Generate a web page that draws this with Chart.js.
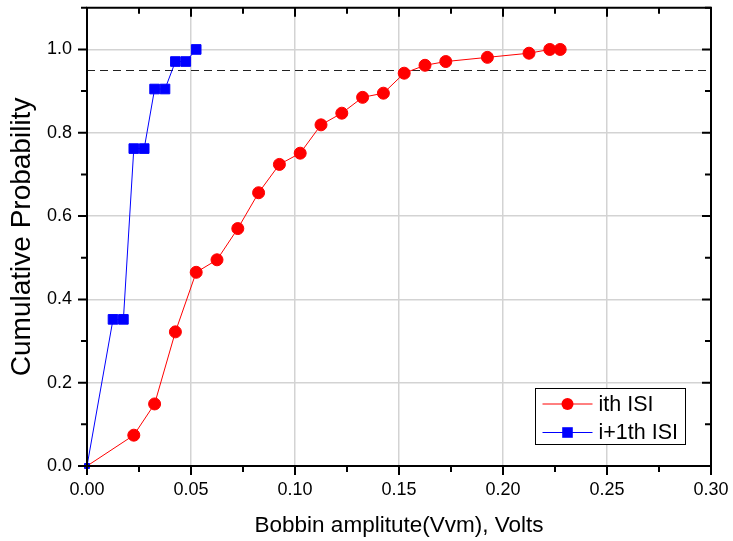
<!DOCTYPE html>
<html><head><meta charset="utf-8">
<script src="https://cdn.jsdelivr.net/npm/chart.js@4/dist/chart.umd.min.js"></script>
<style>html,body{margin:0;padding:0;background:#fff;}#wrap{width:733px;height:541px;}</style>
</head><body><div id="wrap"><canvas id="c" width="733" height="541"></canvas></div>
<script>
// ---- data ----
const seriesNames = ['ith ISI', 'i+1th ISI'];
const ithX = [0, 0.0225, 0.0325, 0.0425, 0.0525, 0.0625, 0.0725, 0.0825, 0.0925, 0.1025, 0.1125, 0.1225, 0.1325, 0.1425, 0.1525, 0.1625, 0.1725, 0.1925, 0.2125, 0.2225, 0.2275];
const ithY = [0, 0.074, 0.149, 0.322, 0.465, 0.495, 0.570, 0.656, 0.724, 0.751, 0.819, 0.847, 0.885, 0.895, 0.943, 0.962, 0.971, 0.981, 0.991, 1.0, 1.0];
const nextX = [0, 0.0125, 0.0175, 0.0225, 0.0275, 0.0325, 0.0375, 0.0425, 0.0475, 0.0525];
const nextY = [0, 0.352, 0.352, 0.762, 0.762, 0.905, 0.905, 0.971, 0.971, 1.0];
const xTickLabels = ['0.00', '0.05', '0.10', '0.15', '0.20', '0.25', '0.30'];
const yTickLabels = ['0.0', '0.2', '0.4', '0.6', '0.8', '1.0'];
const thresholdY = 0.95;
const xTitle = 'Bobbin amplitute(Vvm), Volts';
const yTitle = 'Cumulative Probability';

const FONT = "'Liberation Sans', Arial, sans-serif";
// pick a condensed face for the x title if one is installed
const probe = document.createElement('canvas').getContext('2d');
probe.font = "27px 'Liberation Sans Narrow', monospace";
const wN = probe.measureText(xTitle).width;
probe.font = "27px monospace";
const wM = probe.measureText(xTitle).width;
const hasNarrow = Math.abs(wN - wM) > 1;
const xTitleFont = hasNarrow ? { family: "'Liberation Sans Narrow', " + FONT, size: 27 } : { family: FONT, size: 22.5 };

const isMult = (v, s) => Math.abs(v / s - Math.round(v / s)) < 1e-6;

const ithData = ithX.map((x, i) => ({ x, y: ithY[i] }));
const nextData = nextX.map((x, i) => ({ x, y: nextY[i] }));

const framePlugin = {
  id: 'frame',
  beforeDatasetsDraw(chart) {
    const { ctx, chartArea: a, scales: { y } } = chart;
    const py = Math.round(y.getPixelForValue(thresholdY)) + 0.5;
    ctx.save();
    ctx.strokeStyle = '#222';
    ctx.lineWidth = 1.2;
    ctx.setLineDash([8, 5]);
    ctx.beginPath();
    ctx.moveTo(a.left, py);
    ctx.lineTo(a.right, py);
    ctx.stroke();
    ctx.restore();
  },
  afterDraw(chart) {
    const { ctx, chartArea: a, scales: { x, y } } = chart;
    ctx.save();
    ctx.strokeStyle = '#000';
    ctx.lineWidth = 2;
    ctx.beginPath();
    ctx.rect(a.left, a.top, a.right - a.left, a.bottom - a.top);
    ctx.stroke();
    x.ticks.forEach(t => {
      const px = x.getPixelForValue(t.value);
      const len = isMult(t.value, 0.05) ? 9 : 6;
      ctx.beginPath();
      ctx.moveTo(px, a.bottom); ctx.lineTo(px, a.bottom + len);
      ctx.moveTo(px, a.top); ctx.lineTo(px, a.top + len);
      ctx.stroke();
    });
    y.ticks.forEach(t => {
      const py = y.getPixelForValue(t.value);
      const len = isMult(t.value, 0.2) ? 9 : 6;
      ctx.beginPath();
      ctx.moveTo(a.left, py); ctx.lineTo(a.left - len, py);
      ctx.moveTo(a.right, py); ctx.lineTo(a.right - len, py);
      ctx.stroke();
    });
    // legend box
    const bx = a.right - 175.5, by = a.bottom - 77.5, bw = 150, bh = 56;
    ctx.lineWidth = 1;
    ctx.strokeStyle = '#000';
    ctx.fillStyle = '#fff';
    ctx.fillRect(bx, by, bw, bh);
    ctx.strokeRect(bx, by, bw, bh);
    const rows = [by + 15.5, by + 44];
    chart.data.datasets.forEach((ds, i) => {
      const ry = rows[i];
      ctx.strokeStyle = ds.borderColor;
      ctx.fillStyle = ds.backgroundColor;
      ctx.lineWidth = 1;
      ctx.beginPath();
      ctx.moveTo(bx + 7, ry); ctx.lineTo(bx + 57, ry);
      ctx.stroke();
      const cx = bx + 32;
      ctx.beginPath();
      if (ds.pointStyle === 'rect') ctx.rect(cx - 5.3, ry - 5.3, 10.6, 10.6);
      else ctx.arc(cx, ry, 6, 0, Math.PI * 2);
      ctx.fill();
      ctx.fillStyle = '#000';
      ctx.font = '21.5px ' + FONT;
      ctx.textBaseline = 'middle';
      ctx.textAlign = 'left';
      ctx.fillText(ds.label, bx + 63, ry + 1);
    });
    ctx.restore();
  }
};

const zeroPad = s => { s.paddingLeft = 0; s.paddingRight = 0; s.paddingTop = 0; s.paddingBottom = 0; };

new Chart(document.getElementById('c'), {
  type: 'line',
  data: {
    datasets: [
      {
        label: seriesNames[0], data: ithData, order: 2,
        borderColor: '#ff0000', backgroundColor: '#ff0000', borderWidth: 1,
        pointStyle: 'circle', pointRadius: ithX.map((v, i) => i === 0 ? 0 : 6),
        pointBorderWidth: 1, pointBorderColor: '#ff0000', pointBackgroundColor: '#ff0000',
        tension: 0, fill: false
      },
      {
        label: seriesNames[1], data: nextData, order: 1,
        borderColor: '#0000ff', backgroundColor: '#0000ff', borderWidth: 1,
        pointStyle: 'rect', pointRadius: nextX.map((v, i) => i === 0 ? 3.5 : 6.8),
        pointBorderWidth: 1, pointBorderColor: '#0000ff', pointBackgroundColor: '#0000ff',
        tension: 0, fill: false
      }
    ]
  },
  options: {
    responsive: false,
    devicePixelRatio: 1,
    animation: false,
    clip: false,
    layout: { padding: { left: 0, right: 22, top: 7, bottom: 0 } },
    plugins: { legend: { display: false }, tooltip: { enabled: false } },
    scales: {
      x: {
        type: 'linear', min: 0, max: 0.3,
        afterFit(s) { s.height = 75; zeroPad(s); },
        afterBuildTicks(s) {
          const t = []; for (let i = 0; i <= 12; i++) t.push({ value: i * 0.025 }); s.ticks = t;
        },
        ticks: {
          autoSkip: false, maxRotation: 0, padding: 13, color: '#000',
          font: { family: FONT, size: 18 },
          callback: v => isMult(v, 0.05) ? xTickLabels[Math.round(v / 0.05)] : ''
        },
        grid: {
          drawTicks: false,
          color: c => (c.tick && isMult(c.tick.value, 0.05) && c.tick.value > 0.001 && c.tick.value < 0.299) ? '#d3d3d3' : 'rgba(0,0,0,0)',
          lineWidth: 1.5
        },
        border: { display: false },
        title: { display: true, text: xTitle, color: '#000', font: xTitleFont, padding: { top: 0, bottom: 2 } }
      },
      y: {
        type: 'linear', min: 0, max: 1.1,
        afterFit(s) { s.width = 87; zeroPad(s); },
        afterBuildTicks(s) {
          const t = []; for (let i = 0; i <= 11; i++) t.push({ value: i * 0.1 }); s.ticks = t;
        },
        ticks: {
          autoSkip: false, padding: 15, color: '#000',
          font: { family: FONT, size: 18 },
          callback: v => isMult(v, 0.2) ? yTickLabels[Math.round(v / 0.2)] : ''
        },
        grid: {
          drawTicks: false,
          color: c => (c.tick && isMult(c.tick.value, 0.2) && c.tick.value > 0.001) ? '#d3d3d3' : 'rgba(0,0,0,0)',
          lineWidth: 1.5
        },
        border: { display: false },
        title: { display: true, text: yTitle, color: '#000', font: { family: FONT, size: 28 }, padding: { top: 5, bottom: 0 } }
      }
    }
  },
  plugins: [framePlugin]
});
</script>
</body></html>
